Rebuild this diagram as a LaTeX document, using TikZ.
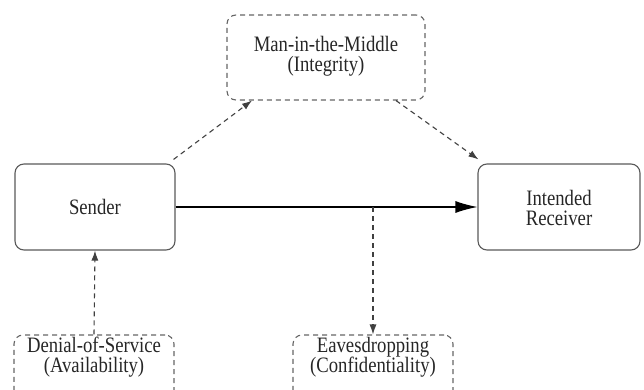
\documentclass[tikz,border=0pt]{standalone}
\usepackage{fontspec}
\setmainfont[FakeStretch=0.85]{Liberation Serif}
\usetikzlibrary{arrows.meta}
\tikzset{
  solidbox/.style={draw=black!65, line width=1.1pt, rounded corners=9pt, minimum width=160pt, minimum height=86pt, inner sep=0pt},
  attackbox/.style={draw=black!60, line width=1.1pt, dashed, dash pattern=on 5pt off 4pt, rounded corners=9pt, inner sep=0pt},
  lbl/.style={align=center, font=\fontsize{22}{20.5}\selectfont, text=black!85},
  mainarrow/.style={line width=1.2pt, -{Latex[length=22pt,width=12pt]}},
  attackarrow/.style={line width=1.1pt, black!75, dash pattern=on 5pt off 4pt, -{Latex[length=10pt,width=7pt]}}
}
\begin{document}
\begin{tikzpicture}[x=1pt,y=-1pt]
\useasboundingbox (0,0) rectangle (644,390);
\clip (0,0) rectangle (644,390);
% solid boxes
\node[solidbox] (sender) at (95,207) {};
\node[lbl] (sendertext) at (95,207) {Sender};
\node[solidbox, minimum width=162pt] (receiver) at (559,207) {};
\node[lbl] (receivertext) at (559,208) {Intended\\Receiver};
% attack boxes
\node[attackbox, minimum width=198pt, minimum height=85pt] (mitm) at (326,57.5) {};
\node[lbl] (mitmtext) at (326,56) {Man-in-the-Middle\\(Integrity)};
\node[attackbox, minimum width=160pt, minimum height=86pt] (dos) at (94,378) {};
\node[lbl] (dostext) at (94,357) {Denial-of-Service\\(Availability)};
\node[attackbox, minimum width=160pt, minimum height=86pt] (eaves) at (373,378) {};
\node[lbl] (eavestext) at (373,357) {Eavesdropping\\(Confidentiality)};
% connectors
\coordinate (tap) at (eaves.north |- sender.east);
\draw[mainarrow] (sender.east) -- (receiver.west);
\draw[attackarrow] (tap) -- (eaves.north);
\draw[attackarrow] (dos.north) -- (sender.south);
\coordinate (mitmin) at ([xshift=-74pt]mitm.south);
\coordinate (mitmout) at ([xshift=70pt]mitm.south);
\draw[attackarrow] ([xshift=-2pt,yshift=4pt]sender.north east) -- (mitmin);
\draw[attackarrow] (mitmout) -- ([xshift=1pt,yshift=4pt]receiver.north west);
\end{tikzpicture}
\end{document}
